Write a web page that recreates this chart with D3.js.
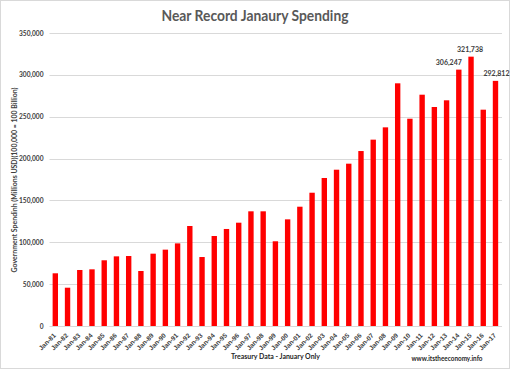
<!DOCTYPE html>
<html><head><meta charset="utf-8">
<script src="https://cdn.jsdelivr.net/npm/d3@7"></script>
<style>
html,body{margin:0;padding:0;background:#fff;}
svg{display:block;font-family:Lato,"Open Sans",sans-serif;}
</style></head>
<body>
<script>
const years = ["81","82","83","84","85","86","87","88","89","90","91","92","93","94","95","96","97","98","99","00","01","02","03","04","05","06","07","08","09","10","11","12","13","14","15","16","17"];
const categories = years.map(y => "Jan-" + y);
const spending = [62950,45750,66900,67700,78500,83200,83600,65700,86400,91200,98700,119450,82400,107500,115900,123400,137000,137000,101200,127400,142500,159200,176800,186700,193900,209000,222600,237300,289900,247600,276300,261600,269600,306247,321738,258400,292812];
const labeled = ["Jan-14","Jan-15","Jan-17"];
const yTicks = [0,50000,100000,150000,200000,250000,300000,350000];
const title = "Near Record Janaury Spending";
const yTitle = "Government Spendinh (Millions USD)(100,000 = 100 Billion)";
const xTitle = "Treasury Data - January Only";
const source = "www.itstheeconomy.info";

const W = 510, H = 369;
const svg = d3.select("body").append("svg").attr("width", W).attr("height", H);
svg.append("rect").attr("x",0.5).attr("y",0.5).attr("width",W-1).attr("height",H-1)
  .attr("fill","#fff").attr("stroke","#d9d9d9");

const x = d3.scaleBand().domain(categories).range([49.2, 501.6]).paddingInner(0.56).paddingOuter(0.28);
const y = d3.scaleLinear().domain([0, 350000]).range([326, 33]);
const fmt = d3.format(",");

// gridlines
svg.append("g").selectAll("line").data(yTicks).join("line")
  .attr("x1", 49.5).attr("x2", 502)
  .attr("y1", d => Math.round(y(d)) + 0.5).attr("y2", d => Math.round(y(d)) + 0.5)
  .attr("stroke", "#d9d9d9").attr("stroke-width", 1);

// y axis labels
const yAxis = d3.axisLeft(y).tickValues(yTicks).tickFormat(fmt).tickSize(0).tickPadding(0);
const gy = svg.append("g").attr("transform", "translate(43.5,0)").call(yAxis);
gy.select(".domain").remove();
gy.selectAll("text").attr("font-size", 6.6).attr("font-weight", "bold").attr("fill", "#404040")
  .attr("font-family", "Lato, sans-serif");

// bars
svg.append("g").selectAll("rect").data(categories).join("rect")
  .attr("x", d => x(d)).attr("width", x.bandwidth())
  .attr("y", (d,i) => y(spending[i])).attr("height", (d,i) => y(0) - y(spending[i]))
  .attr("fill", "#ff0000");

// x axis labels
const xAxis = d3.axisBottom(x).tickSize(0).tickPadding(0);
const gx = svg.append("g").attr("transform", "translate(0,326)").call(xAxis);
gx.select(".domain").remove();
gx.selectAll("text")
  .attr("font-size", 6.6).attr("font-weight", "bold").attr("fill", "#404040")
  .attr("text-anchor", "end").attr("dy", 0)
  .attr("transform", "translate(1,10) rotate(-45)");

// data labels
const labelShift = {"Jan-14": -10, "Jan-15": -1, "Jan-17": 1};
svg.append("g").selectAll("text").data(labeled).join("text")
  .attr("x", d => x(d) + x.bandwidth()/2 + labelShift[d])
  .attr("y", d => y(spending[categories.indexOf(d)]) - 5)
  .attr("text-anchor", "middle").attr("font-size", 7).attr("font-weight", "bold").attr("fill", "#404040")
  .text(d => fmt(spending[categories.indexOf(d)]));

// title
svg.append("text").attr("x", 255).attr("y", 21).attr("text-anchor", "middle")
  .attr("font-size", 14.5).attr("font-weight", "bold").attr("fill", "#595959")
  .attr("textLength", 187).attr("lengthAdjust", "spacingAndGlyphs")
  .text(title);

// y title
svg.append("text").attr("transform", "translate(16.5,180) rotate(-90)")
  .attr("text-anchor", "middle").attr("font-size", 7.5).attr("font-weight", "bold").attr("fill", "#404040")
  .attr("textLength", 185).attr("lengthAdjust", "spacingAndGlyphs")
  .text(yTitle);

// x title
svg.append("text").attr("x", 275.5).attr("y", 359).attr("text-anchor", "middle")
  .attr("font-size", 8).attr("font-weight", "bold").attr("fill", "#262626")
  .attr("textLength", 89).attr("lengthAdjust", "spacingAndGlyphs")
  .text(xTitle);

// source
svg.append("text").attr("x", 447).attr("y", 361).attr("text-anchor", "middle")
  .attr("font-size", 7.5).attr("font-weight", "bold").attr("fill", "#262626")
  .attr("textLength", 71).attr("lengthAdjust", "spacingAndGlyphs")
  .text(source);
</script>
</body></html>
